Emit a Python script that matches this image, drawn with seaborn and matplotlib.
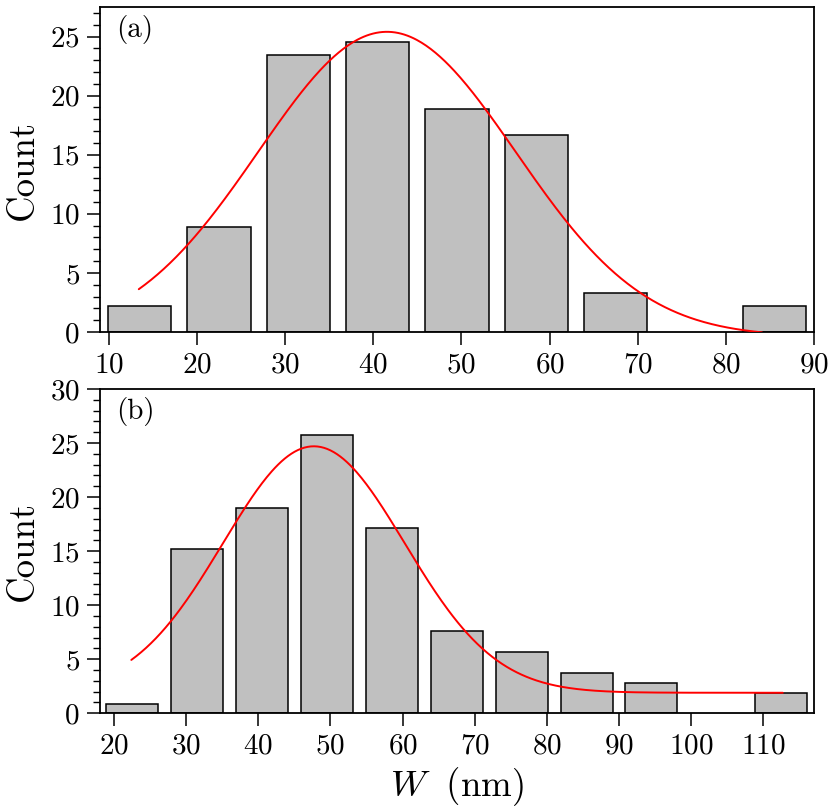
import numpy as np
import pandas as pd
import matplotlib
matplotlib.use("Agg")
import matplotlib.pyplot as plt
from matplotlib.ticker import MultipleLocator
import seaborn as sns

# ---------------- data ----------------
# panel (a): bin centres (nm) and counts
a_centers = [13.5, 22.5, 31.5, 40.5, 49.5, 58.5, 67.5, 85.5]
a_counts = [2.2, 8.9, 23.4, 24.5, 18.9, 16.7, 3.3, 2.2]
# Gaussian fit for (a): offset, amplitude, centre, sigma, x-range
a_fit_y0, a_fit_amp, a_fit_mu, a_fit_sigma = -0.4, 25.8, 41.55, 14.6
a_fit_range = (13.4, 84.1)

# panel (b)
b_centers = [22.5, 31.5, 40.5, 49.5, 58.5, 67.5, 76.5, 85.5, 94.5, 112.5]
b_counts = [0.9, 15.2, 19.0, 25.7, 17.1, 7.6, 5.7, 3.7, 2.8, 1.9]
b_fit_y0, b_fit_amp, b_fit_mu, b_fit_sigma = 1.9, 22.8, 47.7, 12.6
b_fit_range = (22.4, 112.7)

a_xticks = [10, 20, 30, 40, 50, 60, 70, 80, 90]
b_xticks = [20, 30, 40, 50, 60, 70, 80, 90, 100, 110]

# ---------------- style ----------------
sns.set_style("ticks")
plt.rcParams["font.family"] = ["cmr10", "DejaVu Serif"]
plt.rcParams["mathtext.fontset"] = "cm"
plt.rcParams["axes.unicode_minus"] = False
plt.rcParams["axes.formatter.use_mathtext"] = True
for k in ["text.color", "axes.labelcolor", "xtick.color", "ytick.color", "axes.edgecolor"]:
    plt.rcParams[k] = "black"

W, H = 838, 809
fig = plt.figure(figsize=(W / 100, H / 100), dpi=100)

def px_axes(x0, y0, x1, y1):
    return fig.add_axes([x0 / W, 1 - y1 / H, (x1 - x0) / W, (y1 - y0) / H])

ax_a = px_axes(100, 7, 814, 332)
ax_b = px_axes(100, 389, 814, 713.3)

def gauss_curve(y0, amp, mu, sigma, rng):
    x = np.linspace(rng[0], rng[1], 400)
    return x, y0 + amp * np.exp(-(x - mu) ** 2 / (2 * sigma ** 2))

def draw(ax, centers, counts, fit, xlim, ylim, xticks, label):
    df = pd.DataFrame({"W": centers, "Count": counts})
    sns.barplot(data=df, x="W", y="Count", native_scale=True, color="#c0c0c0",
                saturation=1, edgecolor="black", linewidth=1.1, errorbar=None,
                width=0.8, ax=ax, zorder=2)
    xf, yf = gauss_curve(*fit)
    sns.lineplot(x=xf, y=yf, color="red", linewidth=1.4, ax=ax, zorder=3,
                 sort=False, estimator=None)
    ax.set_xlim(*xlim)
    ax.set_ylim(*ylim)
    ax.set_xticks(xticks)
    ax.yaxis.set_major_locator(MultipleLocator(5))
    ax.yaxis.set_minor_locator(MultipleLocator(1))
    ax.tick_params(axis="both", which="major", direction="out", length=9.5,
                   width=1.1, labelsize=21, pad=5)
    ax.tick_params(axis="y", which="minor", direction="out", length=4.8, width=1.0)
    ax.tick_params(axis="x", which="major", pad=5)
    for s in ax.spines.values():
        s.set_visible(True)
        s.set_linewidth(1.3)
        s.set_color("black")
    ax.set_ylabel("Count", fontsize=26.5, labelpad=7)
    ax.set_xlabel("")
    ax.text(0.022, 0.975, label, transform=ax.transAxes, ha="left", va="top",
            fontsize=21)

draw(ax_a, a_centers, a_counts,
     (a_fit_y0, a_fit_amp, a_fit_mu, a_fit_sigma, a_fit_range),
     (9.0, 90.0), (0, 27.5), a_xticks, "(a)")
draw(ax_b, b_centers, b_counts,
     (b_fit_y0, b_fit_amp, b_fit_mu, b_fit_sigma, b_fit_range),
     (18.06, 117.03), (0, 30), b_xticks, "(b)")
ax_b.set_xlabel(r"$W\;$ (nm)", fontsize=26.5, labelpad=4)

fig.savefig("out.png", dpi=100)
